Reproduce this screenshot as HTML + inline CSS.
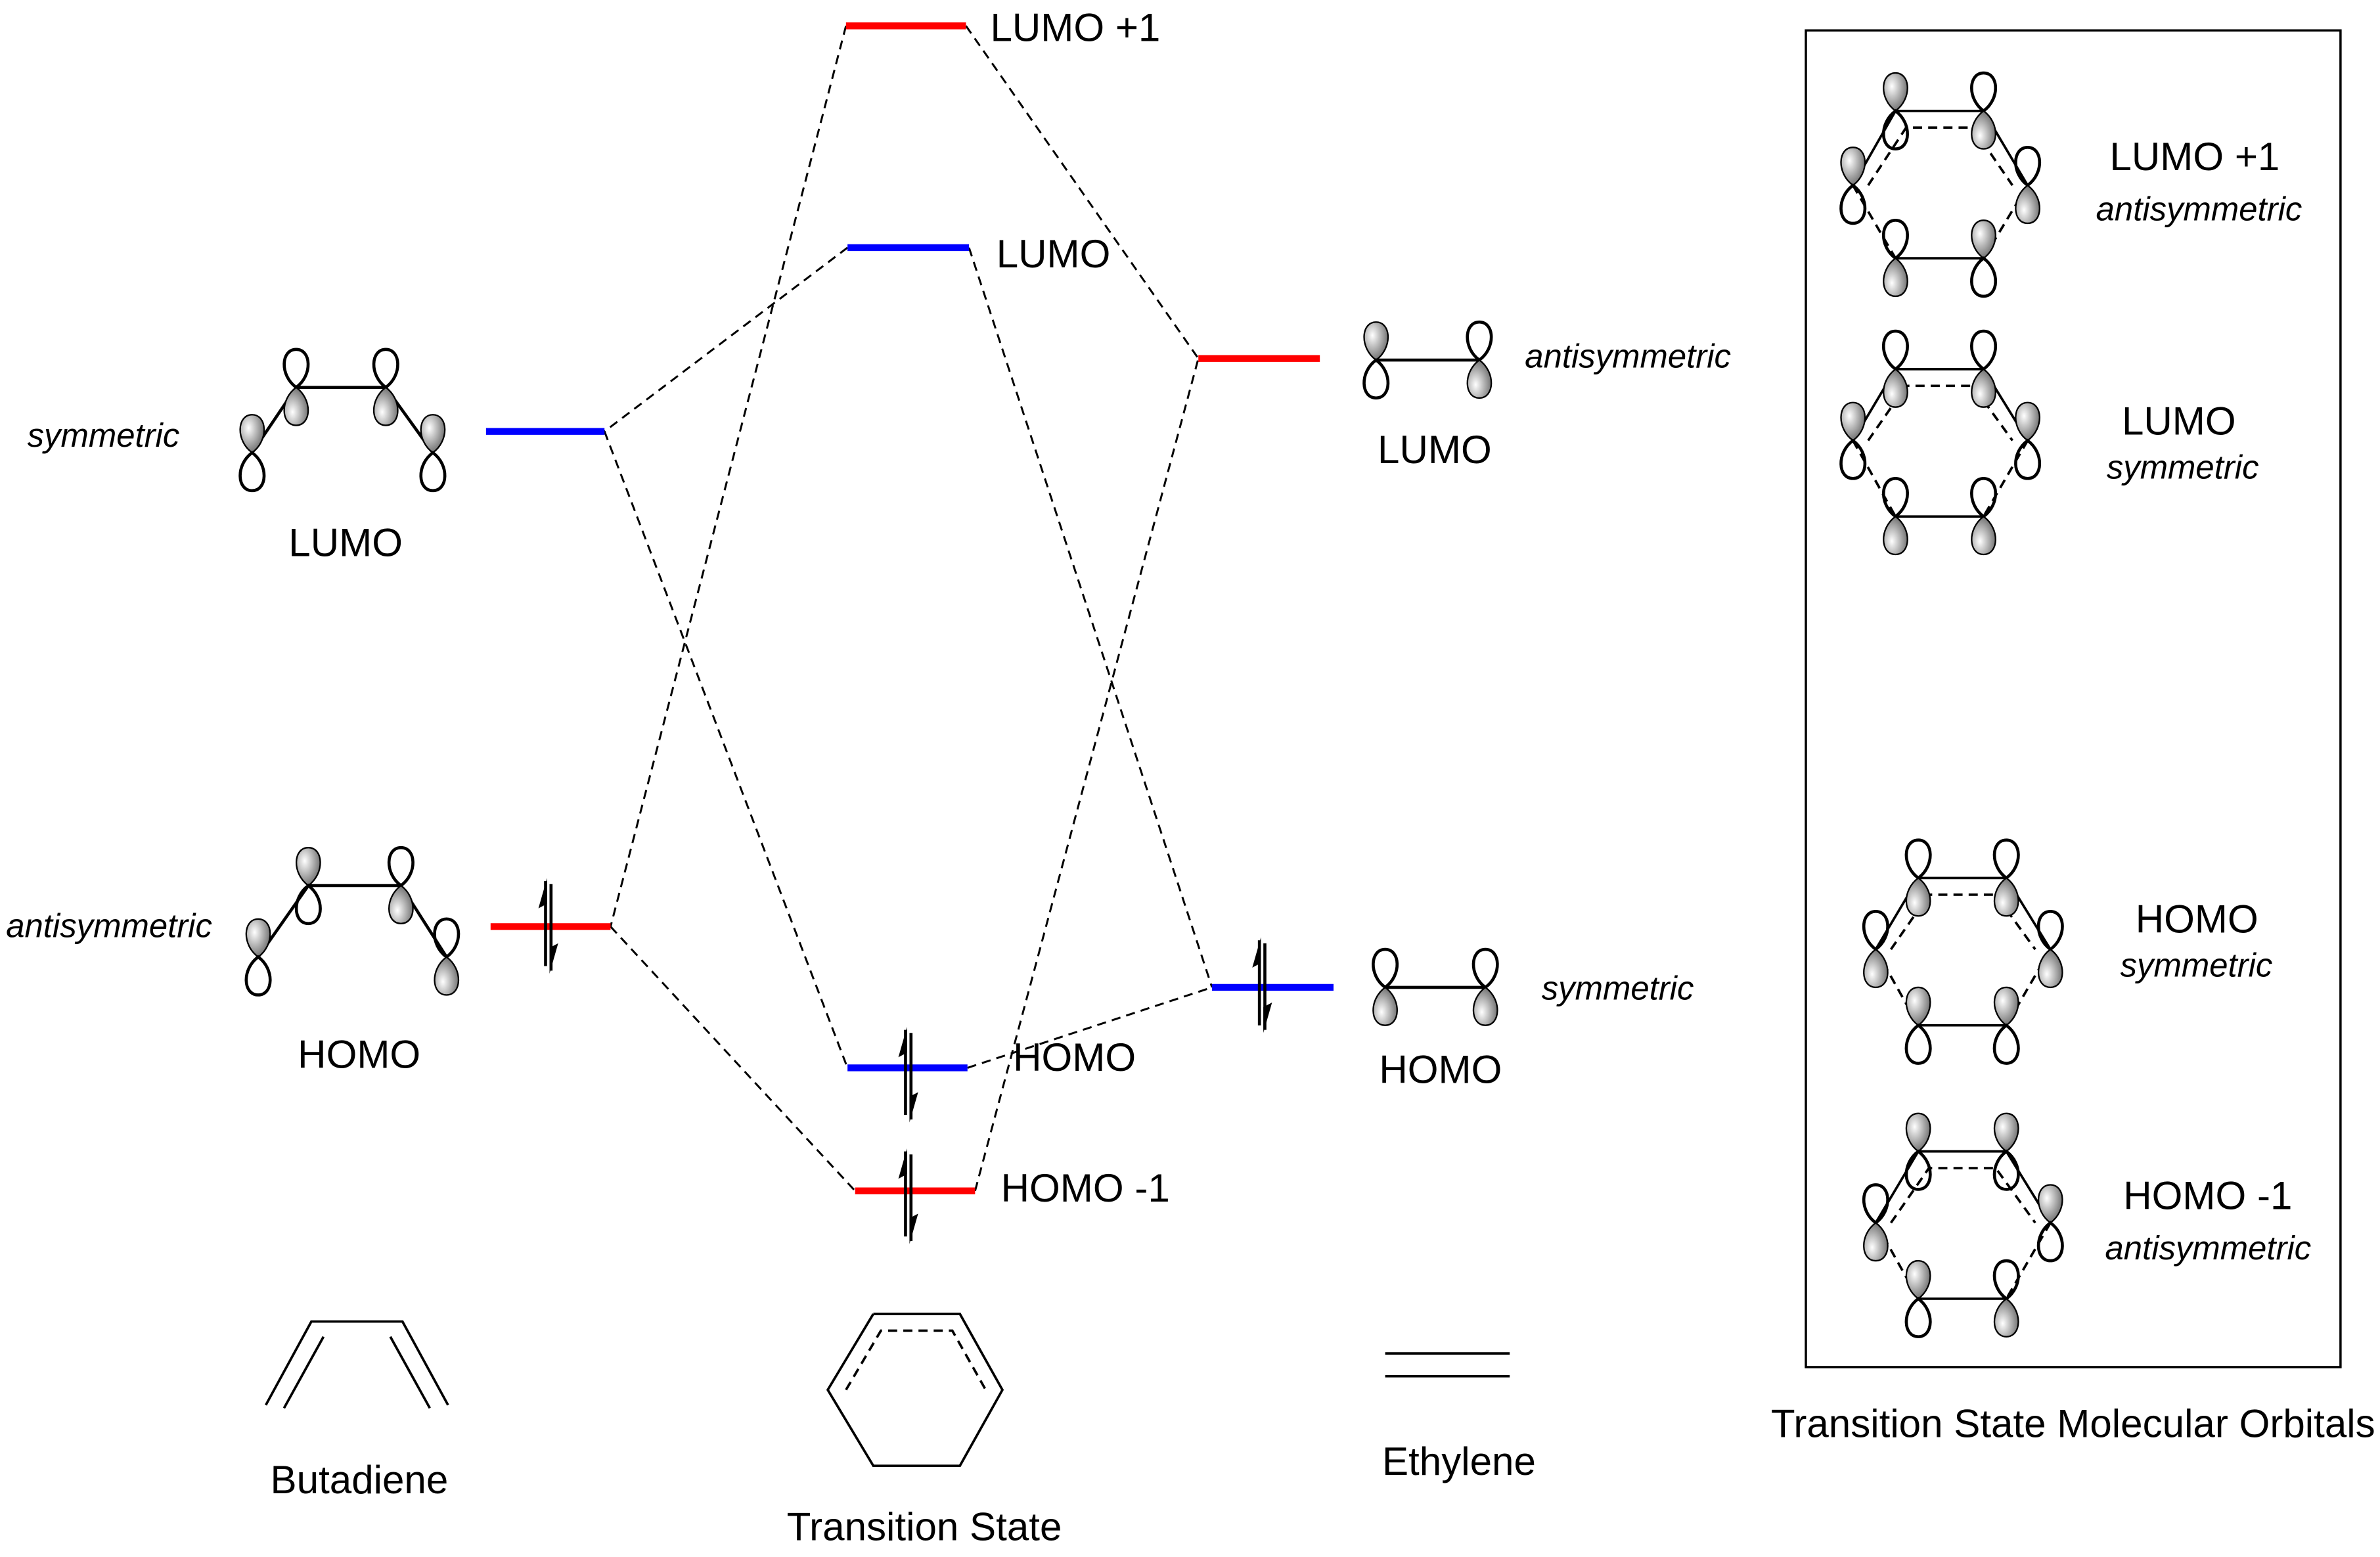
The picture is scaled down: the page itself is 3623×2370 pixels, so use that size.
<!DOCTYPE html>
<html><head><meta charset="utf-8"><style>
html,body{margin:0;padding:0;background:#fff;}
svg{display:block;}
text{font-family:"Liberation Sans",sans-serif;fill:#000;}
.l{font-size:26px;}
.i{font-size:22px;font-style:italic;}
</style></head><body>
<svg width="3623" height="2370" viewBox="0 0 1567 1025" xmlns="http://www.w3.org/2000/svg">
<defs>
<radialGradient id="g" cx="0.35" cy="0.35" r="0.8">
<stop offset="0" stop-color="#fff"/><stop offset="0.6" stop-color="#999"/><stop offset="1" stop-color="#555"/>
</radialGradient>
<path id="lob" d="M0,0 C-11,-8 -10,-25 0,-25 C10,-25 11,-8 0,0Z"/>
<g id="SU"><use href="#lob" fill="url(#g)" stroke="#000" stroke-width="1"/><use href="#lob" fill="none" stroke="#000" stroke-width="2" transform="scale(1,-1)"/></g>
<g id="OU"><use href="#lob" fill="none" stroke="#000" stroke-width="2"/><use href="#lob" fill="url(#g)" stroke="#000" stroke-width="1" transform="scale(1,-1)"/></g>
<g id="ea" fill="#000" stroke="#000">
<line x1="-1.8" y1="28" x2="-1.8" y2="-28" stroke-width="2"/>
<polygon points="-0.8,-30 -6.5,-10 -0.8,-13" stroke="none"/>
<line x1="1.8" y1="-26" x2="1.8" y2="31" stroke-width="2"/>
<polygon points="0.8,33 6.5,13 0.8,16" stroke="none"/>
</g>
</defs>

<g stroke="#000" stroke-width="1.3" stroke-dasharray="6,4" fill="none">
<line x1="557" y1="17" x2="402" y2="610"/>
<line x1="636" y1="17" x2="789" y2="236"/>
<line x1="558" y1="163" x2="398" y2="284"/>
<line x1="638" y1="163" x2="798" y2="650"/>
<line x1="398" y1="284" x2="558" y2="703"/>
<line x1="637" y1="703" x2="798" y2="650"/>
<line x1="402" y1="610" x2="563" y2="784"/>
<line x1="642" y1="784" x2="789" y2="236"/>
</g>

<g stroke-width="4.5">
<line x1="320" y1="284" x2="398" y2="284" stroke="#00f"/>
<line x1="323" y1="610" x2="402" y2="610" stroke="#f00"/>
<line x1="557" y1="17" x2="636" y2="17" stroke="#f00"/>
<line x1="558" y1="163" x2="638" y2="163" stroke="#00f"/>
<line x1="558" y1="703" x2="637" y2="703" stroke="#00f"/>
<line x1="563" y1="784" x2="642" y2="784" stroke="#f00"/>
<line x1="789" y1="236" x2="869" y2="236" stroke="#f00"/>
<line x1="798" y1="650" x2="878" y2="650" stroke="#00f"/>
</g>
<use href="#ea" x="361" y="608"/>
<use href="#ea" x="598" y="706"/>
<use href="#ea" x="598" y="786"/>
<use href="#ea" x="831" y="647"/>

<polyline points="166,298 195,255 254,255 285,298" fill="none" stroke="#000" stroke-width="2"/>
<use href="#SU" x="166" y="298"/><use href="#OU" x="195" y="255"/><use href="#OU" x="254" y="255"/><use href="#SU" x="285" y="298"/>
<polyline points="170,630 203,583 264,583 294,630" fill="none" stroke="#000" stroke-width="2"/>
<use href="#SU" x="170" y="630"/><use href="#SU" x="203" y="583"/><use href="#OU" x="264" y="583"/><use href="#OU" x="294" y="630"/>
<line x1="906" y1="237" x2="974" y2="237" stroke="#000" stroke-width="2"/>
<use href="#SU" x="906" y="237"/><use href="#OU" x="974" y="237"/>
<line x1="912" y1="650" x2="978" y2="650" stroke="#000" stroke-width="2"/>
<use href="#OU" x="912" y="650"/><use href="#OU" x="978" y="650"/>

<text class="i" x="18" y="294">symmetric</text>
<text class="l" x="190" y="366">LUMO</text>
<text class="i" x="4" y="617">antisymmetric</text>
<text class="l" x="196" y="703">HOMO</text>
<text class="l" x="652" y="27">LUMO +1</text>
<text class="l" x="656" y="176">LUMO</text>
<text class="l" x="667" y="705">HOMO</text>
<text class="l" x="659" y="791">HOMO -1</text>
<text class="i" x="1004" y="242">antisymmetric</text>
<text class="l" x="907" y="305">LUMO</text>
<text class="i" x="1015" y="658">symmetric</text>
<text class="l" x="908" y="713">HOMO</text>

<g stroke="#000" stroke-width="1.6" fill="none">
<polyline points="175,925 205,870 265,870 295,925"/>
<line x1="187" y1="927" x2="213" y2="880"/>
<line x1="283" y1="927" x2="257" y2="880"/>
<polyline points="575,865 632,865 660,915 632,965 575,965 545,915 575,865"/>
<polyline points="557,915 580,876 627,876 649,915" stroke-dasharray="6,4"/>
<line x1="912" y1="891" x2="994" y2="891"/>
<line x1="912" y1="906" x2="994" y2="906"/>
</g>
<text class="l" x="178" y="983">Butadiene</text>
<text class="l" x="518" y="1014">Transition State</text>
<text class="l" x="910" y="971">Ethylene</text>

<rect x="1189" y="20" width="352" height="880" fill="none" stroke="#000" stroke-width="1.5"/>
<text class="l" x="1166" y="946">Transition State Molecular Orbitals</text>

<g>
<g stroke="#000" stroke-width="1.6" fill="none">
<polyline points="1220,122 1248,73 1306,73 1335,122"/>
<line x1="1248" y1="170" x2="1306" y2="170"/>
<g stroke-dasharray="6,4"><polyline points="1220,122 1248,170"/><polyline points="1335,122 1306,170"/><polyline points="1230,122 1255,84 1299,84 1325,122"/></g>
</g>
<use href="#SU" x="1248" y="73"/><use href="#OU" x="1306" y="73"/><use href="#SU" x="1220" y="122"/><use href="#OU" x="1335" y="122"/><use href="#OU" x="1248" y="170"/><use href="#SU" x="1306" y="170"/>
</g>
<g>
<g stroke="#000" stroke-width="1.6" fill="none">
<polyline points="1220,290 1248,243 1306,243 1335,290"/>
<line x1="1248" y1="340" x2="1306" y2="340"/>
<g stroke-dasharray="6,4"><polyline points="1220,290 1248,340"/><polyline points="1335,290 1306,340"/><polyline points="1230,290 1255,254 1299,254 1325,290"/></g>
</g>
<use href="#OU" x="1248" y="243"/><use href="#OU" x="1306" y="243"/><use href="#SU" x="1220" y="290"/><use href="#SU" x="1335" y="290"/><use href="#OU" x="1248" y="340"/><use href="#OU" x="1306" y="340"/>
</g>
<g>
<g stroke="#000" stroke-width="1.6" fill="none">
<polyline points="1235,625 1263,578 1321,578 1350,625"/>
<line x1="1263" y1="675" x2="1321" y2="675"/>
<g stroke-dasharray="6,4"><polyline points="1235,625 1263,675"/><polyline points="1350,625 1321,675"/><polyline points="1245,625 1270,589 1314,589 1340,625"/></g>
</g>
<use href="#OU" x="1263" y="578"/><use href="#OU" x="1321" y="578"/><use href="#OU" x="1235" y="625"/><use href="#OU" x="1350" y="625"/><use href="#SU" x="1263" y="675"/><use href="#SU" x="1321" y="675"/>
</g>
<g>
<g stroke="#000" stroke-width="1.6" fill="none">
<polyline points="1235,805 1263,758 1321,758 1350,805"/>
<line x1="1263" y1="855" x2="1321" y2="855"/>
<g stroke-dasharray="6,4"><polyline points="1235,805 1263,855"/><polyline points="1350,805 1321,855"/><polyline points="1245,805 1270,769 1314,769 1340,805"/></g>
</g>
<use href="#SU" x="1263" y="758"/><use href="#SU" x="1321" y="758"/><use href="#OU" x="1235" y="805"/><use href="#SU" x="1350" y="805"/><use href="#SU" x="1263" y="855"/><use href="#OU" x="1321" y="855"/>
</g>

<text class="l" x="1389" y="112">LUMO +1</text>
<text class="i" x="1380" y="145">antisymmetric</text>
<text class="l" x="1397" y="286">LUMO</text>
<text class="i" x="1387" y="315">symmetric</text>
<text class="l" x="1406" y="614">HOMO</text>
<text class="i" x="1396" y="643">symmetric</text>
<text class="l" x="1398" y="796">HOMO -1</text>
<text class="i" x="1386" y="829">antisymmetric</text>
</svg>
</body></html>
